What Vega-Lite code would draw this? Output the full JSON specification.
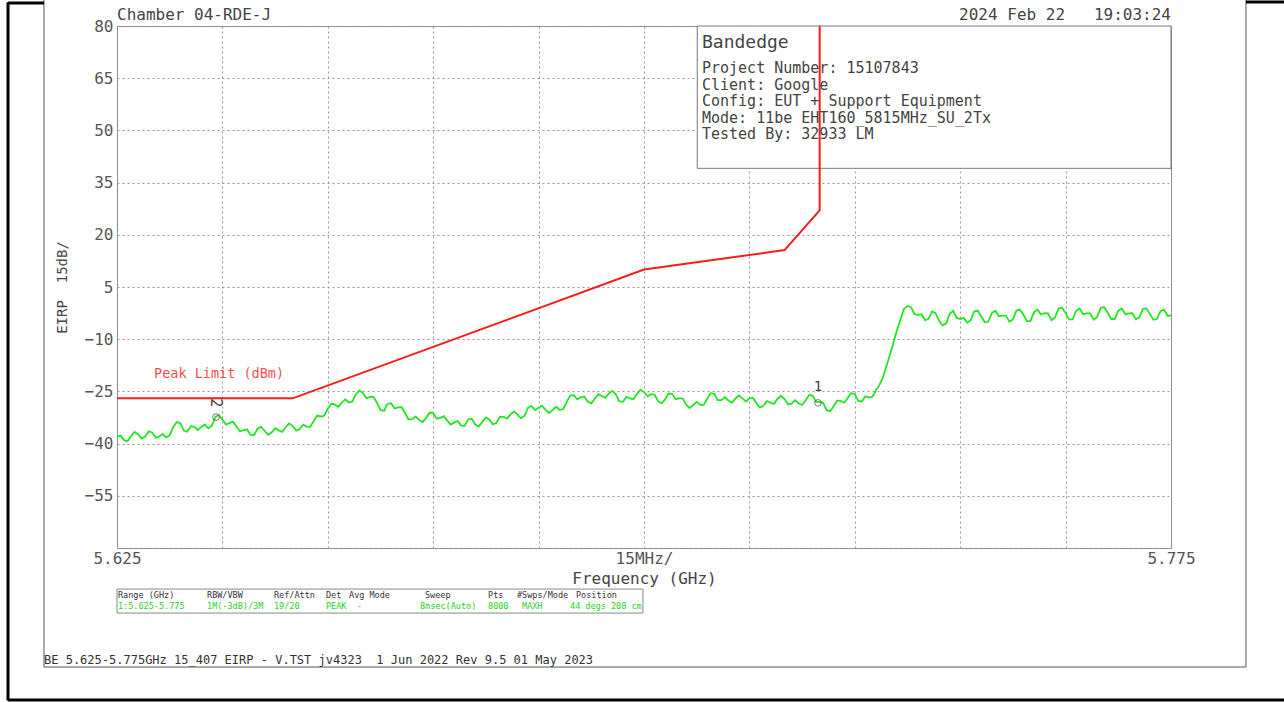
{
  "$schema": "https://vega.github.io/schema/vega-lite/v6.json",
  "width": 1054,
  "height": 522,
  "autosize": {"type": "none"},
  "padding": {"left": 117, "top": 26, "right": 113, "bottom": 154},
  "background": "white",
  "config": {
    "view": {"stroke": "#888888", "strokeWidth": 1},
    "font": "DejaVu Sans Mono",
    "text": {"font": "DejaVu Sans Mono"}
  },
  "datasets": {
    "limit": [
      {"seq": 1, "freq": 5.625, "eirp": -27},
      {"seq": 2, "freq": 5.65, "eirp": -27},
      {"seq": 3, "freq": 5.7, "eirp": 10},
      {"seq": 4, "freq": 5.72, "eirp": 15.6},
      {"seq": 5, "freq": 5.725, "eirp": 27},
      {"seq": 6, "freq": 5.725, "eirp": 80}
    ],
    "trace": [
      {"freq":5.625,"eirp":-38.1},{"freq":5.6255,"eirp":-37.65},
      {"freq":5.626,"eirp":-39.0},{"freq":5.6265,"eirp":-39.3},
      {"freq":5.627,"eirp":-37.8},{"freq":5.6275,"eirp":-36.65},
      {"freq":5.628,"eirp":-37.3},{"freq":5.6285,"eirp":-38.55},
      {"freq":5.629,"eirp":-38.0},{"freq":5.6295,"eirp":-36.5},
      {"freq":5.63,"eirp":-36.8},{"freq":5.6305,"eirp":-38.3},
      {"freq":5.631,"eirp":-38.0},{"freq":5.6315,"eirp":-37.2},
      {"freq":5.632,"eirp":-38.2},{"freq":5.6325,"eirp":-37.65},
      {"freq":5.633,"eirp":-35.3},{"freq":5.6335,"eirp":-33.8},
      {"freq":5.634,"eirp":-34.1},{"freq":5.6345,"eirp":-36.25},
      {"freq":5.635,"eirp":-36.6},{"freq":5.6355,"eirp":-35.0},
      {"freq":5.636,"eirp":-35.2},{"freq":5.6365,"eirp":-36.1},
      {"freq":5.637,"eirp":-35.2},{"freq":5.6375,"eirp":-34.5},
      {"freq":5.638,"eirp":-35.6},{"freq":5.6385,"eirp":-34.85},
      {"freq":5.639,"eirp":-32.3},{"freq":5.6395,"eirp":-31.8},
      {"freq":5.64,"eirp":-33.1},{"freq":5.6405,"eirp":-34.5},
      {"freq":5.641,"eirp":-34.1},{"freq":5.6415,"eirp":-33.7},
      {"freq":5.642,"eirp":-35.1},{"freq":5.6425,"eirp":-36.5},
      {"freq":5.643,"eirp":-36.1},{"freq":5.6435,"eirp":-35.9},
      {"freq":5.644,"eirp":-37.5},{"freq":5.6445,"eirp":-37.55},
      {"freq":5.645,"eirp":-35.8},{"freq":5.6455,"eirp":-35.15},
      {"freq":5.646,"eirp":-36.3},{"freq":5.6465,"eirp":-37.45},
      {"freq":5.647,"eirp":-36.8},{"freq":5.6475,"eirp":-35.6},
      {"freq":5.648,"eirp":-36.2},{"freq":5.6485,"eirp":-36.65},
      {"freq":5.649,"eirp":-35.3},{"freq":5.6495,"eirp":-34.2},
      {"freq":5.65,"eirp":-34.9},{"freq":5.6505,"eirp":-36.25},
      {"freq":5.651,"eirp":-35.8},{"freq":5.6515,"eirp":-34.55},
      {"freq":5.652,"eirp":-35.1},{"freq":5.6525,"eirp":-35.2},
      {"freq":5.653,"eirp":-33.5},{"freq":5.6535,"eirp":-31.95},
      {"freq":5.654,"eirp":-32.2},{"freq":5.6545,"eirp":-32.0},
      {"freq":5.655,"eirp":-30.0},{"freq":5.6555,"eirp":-28.5},
      {"freq":5.656,"eirp":-28.8},{"freq":5.6565,"eirp":-29.4},
      {"freq":5.657,"eirp":-28.2},{"freq":5.6575,"eirp":-27.3},
      {"freq":5.658,"eirp":-28.2},{"freq":5.6585,"eirp":-27.9},
      {"freq":5.659,"eirp":-25.8},{"freq":5.6595,"eirp":-24.75},
      {"freq":5.66,"eirp":-25.5},{"freq":5.6605,"eirp":-26.95},
      {"freq":5.661,"eirp":-26.6},{"freq":5.6615,"eirp":-26.55},
      {"freq":5.662,"eirp":-28.3},{"freq":5.6625,"eirp":-30.35},
      {"freq":5.663,"eirp":-30.6},{"freq":5.6635,"eirp":-28.6},
      {"freq":5.664,"eirp":-28.4},{"freq":5.6645,"eirp":-29.9},
      {"freq":5.665,"eirp":-29.6},{"freq":5.6655,"eirp":-29.55},
      {"freq":5.666,"eirp":-31.3},{"freq":5.6665,"eirp":-33.05},
      {"freq":5.667,"eirp":-33.0},{"freq":5.6675,"eirp":-32.2},
      {"freq":5.668,"eirp":-33.2},{"freq":5.6685,"eirp":-33.8},
      {"freq":5.669,"eirp":-32.6},{"freq":5.6695,"eirp":-31.05},
      {"freq":5.67,"eirp":-31.3},{"freq":5.6705,"eirp":-32.85},
      {"freq":5.671,"eirp":-32.6},{"freq":5.6715,"eirp":-32.1},
      {"freq":5.672,"eirp":-33.4},{"freq":5.6725,"eirp":-34.55},
      {"freq":5.673,"eirp":-33.9},{"freq":5.6735,"eirp":-33.5},
      {"freq":5.674,"eirp":-34.9},{"freq":5.6745,"eirp":-34.85},
      {"freq":5.675,"eirp":-33.0},{"freq":5.6755,"eirp":-32.9},
      {"freq":5.676,"eirp":-34.6},{"freq":5.6765,"eirp":-35.05},
      {"freq":5.677,"eirp":-33.7},{"freq":5.6775,"eirp":-32.5},
      {"freq":5.678,"eirp":-33.1},{"freq":5.6785,"eirp":-34.45},
      {"freq":5.679,"eirp":-34.0},{"freq":5.6795,"eirp":-32.25},
      {"freq":5.68,"eirp":-32.3},{"freq":5.6805,"eirp":-32.85},
      {"freq":5.681,"eirp":-31.6},{"freq":5.6815,"eirp":-30.75},
      {"freq":5.682,"eirp":-31.7},{"freq":5.6825,"eirp":-32.75},
      {"freq":5.683,"eirp":-32.0},{"freq":5.6835,"eirp":-29.7},
      {"freq":5.684,"eirp":-29.2},{"freq":5.6845,"eirp":-30.35},
      {"freq":5.685,"eirp":-29.7},{"freq":5.6855,"eirp":-29.1},
      {"freq":5.686,"eirp":-30.3},{"freq":5.6865,"eirp":-31.2},
      {"freq":5.687,"eirp":-30.3},{"freq":5.6875,"eirp":-29.4},
      {"freq":5.688,"eirp":-30.3},{"freq":5.6885,"eirp":-30.1},
      {"freq":5.689,"eirp":-28.1},{"freq":5.6895,"eirp":-26.2},
      {"freq":5.69,"eirp":-26.1},{"freq":5.6905,"eirp":-27.3},
      {"freq":5.691,"eirp":-26.7},{"freq":5.6915,"eirp":-26.45},
      {"freq":5.692,"eirp":-28.0},{"freq":5.6925,"eirp":-28.45},
      {"freq":5.693,"eirp":-27.1},{"freq":5.6935,"eirp":-25.8},
      {"freq":5.694,"eirp":-26.3},{"freq":5.6945,"eirp":-26.85},
      {"freq":5.695,"eirp":-25.6},{"freq":5.6955,"eirp":-24.85},
      {"freq":5.696,"eirp":-25.9},{"freq":5.6965,"eirp":-27.85},
      {"freq":5.697,"eirp":-28.0},{"freq":5.6975,"eirp":-26.6},
      {"freq":5.698,"eirp":-27.0},{"freq":5.6985,"eirp":-27.25},
      {"freq":5.699,"eirp":-25.7},{"freq":5.6995,"eirp":-24.55},
      {"freq":5.7,"eirp":-25.2},{"freq":5.7005,"eirp":-26.4},
      {"freq":5.701,"eirp":-25.8},{"freq":5.7015,"eirp":-25.9},
      {"freq":5.702,"eirp":-27.8},{"freq":5.7025,"eirp":-28.45},
      {"freq":5.703,"eirp":-27.3},{"freq":5.7035,"eirp":-25.6},
      {"freq":5.704,"eirp":-25.7},{"freq":5.7045,"eirp":-27.25},
      {"freq":5.705,"eirp":-27.0},{"freq":5.7055,"eirp":-27.0},
      {"freq":5.706,"eirp":-28.8},{"freq":5.7065,"eirp":-29.75},
      {"freq":5.707,"eirp":-28.9},{"freq":5.7075,"eirp":-28.0},
      {"freq":5.708,"eirp":-28.9},{"freq":5.7085,"eirp":-28.9},
      {"freq":5.709,"eirp":-27.1},{"freq":5.7095,"eirp":-25.5},
      {"freq":5.71,"eirp":-25.7},{"freq":5.7105,"eirp":-27.5},
      {"freq":5.711,"eirp":-27.5},{"freq":5.7115,"eirp":-26.65},
      {"freq":5.712,"eirp":-27.6},{"freq":5.7125,"eirp":-28.25},
      {"freq":5.713,"eirp":-27.1},{"freq":5.7135,"eirp":-26.15},
      {"freq":5.714,"eirp":-27.0},{"freq":5.7145,"eirp":-27.9},
      {"freq":5.715,"eirp":-27.0},{"freq":5.7155,"eirp":-26.8},
      {"freq":5.716,"eirp":-28.4},{"freq":5.7165,"eirp":-29.65},
      {"freq":5.717,"eirp":-29.1},{"freq":5.7175,"eirp":-27.8},
      {"freq":5.718,"eirp":-28.3},{"freq":5.7185,"eirp":-28.6},
      {"freq":5.719,"eirp":-27.1},{"freq":5.7195,"eirp":-26.25},
      {"freq":5.72,"eirp":-27.2},{"freq":5.7205,"eirp":-28.75},
      {"freq":5.721,"eirp":-28.5},{"freq":5.7215,"eirp":-27.55},
      {"freq":5.722,"eirp":-28.4},{"freq":5.7225,"eirp":-28.9},
      {"freq":5.723,"eirp":-27.6},{"freq":5.7235,"eirp":-26.0},
      {"freq":5.724,"eirp":-26.2},{"freq":5.7245,"eirp":-28.0},
      {"freq":5.725,"eirp":-28.0},{"freq":5.7255,"eirp":-28.3},
      {"freq":5.726,"eirp":-30.4},{"freq":5.7265,"eirp":-30.7},
      {"freq":5.727,"eirp":-29.2},{"freq":5.7275,"eirp":-27.6},
      {"freq":5.728,"eirp":-27.8},{"freq":5.7285,"eirp":-28.25},
      {"freq":5.729,"eirp":-26.9},{"freq":5.7295,"eirp":-25.45},
      {"freq":5.73,"eirp":-25.8},{"freq":5.7305,"eirp":-27.75},
      {"freq":5.731,"eirp":-27.9},{"freq":5.7315,"eirp":-26.4},
      {"freq":5.732,"eirp":-26.7},{"freq":5.7325,"eirp":-26.6},
      {"freq":5.733,"eirp":-24.7},{"freq":5.7335,"eirp":-23.2},
      {"freq":5.734,"eirp":-21.0},{"freq":5.7345,"eirp":-17.75},
      {"freq":5.735,"eirp":-14.5},{"freq":5.7355,"eirp":-10.95},
      {"freq":5.736,"eirp":-7.4},{"freq":5.7365,"eirp":-4.35},
      {"freq":5.737,"eirp":-1.3},{"freq":5.7375,"eirp":-0.45},
      {"freq":5.738,"eirp":-0.8},{"freq":5.7385,"eirp":-2.8},
      {"freq":5.739,"eirp":-3.0},{"freq":5.7395,"eirp":-2.85},
      {"freq":5.74,"eirp":-4.5},{"freq":5.7405,"eirp":-4.15},
      {"freq":5.741,"eirp":-2.0},{"freq":5.7415,"eirp":-2.5},
      {"freq":5.742,"eirp":-4.8},{"freq":5.7425,"eirp":-6.05},
      {"freq":5.743,"eirp":-5.5},{"freq":5.7435,"eirp":-2.75},
      {"freq":5.744,"eirp":-1.8},{"freq":5.7445,"eirp":-3.9},
      {"freq":5.745,"eirp":-4.2},{"freq":5.7455,"eirp":-3.85},
      {"freq":5.746,"eirp":-5.3},{"freq":5.7465,"eirp":-4.55},
      {"freq":5.747,"eirp":-2.0},{"freq":5.7475,"eirp":-1.85},
      {"freq":5.748,"eirp":-3.5},{"freq":5.7485,"eirp":-5.15},
      {"freq":5.749,"eirp":-5.0},{"freq":5.7495,"eirp":-2.5},
      {"freq":5.75,"eirp":-1.8},{"freq":5.7505,"eirp":-3.4},
      {"freq":5.751,"eirp":-3.2},{"freq":5.7515,"eirp":-3.2},
      {"freq":5.752,"eirp":-5.0},{"freq":5.7525,"eirp":-4.3},
      {"freq":5.753,"eirp":-1.8},{"freq":5.7535,"eirp":-1.5},
      {"freq":5.754,"eirp":-3.0},{"freq":5.7545,"eirp":-4.8},
      {"freq":5.755,"eirp":-4.8},{"freq":5.7555,"eirp":-2.25},
      {"freq":5.756,"eirp":-1.5},{"freq":5.7565,"eirp":-2.9},
      {"freq":5.757,"eirp":-2.5},{"freq":5.7575,"eirp":-2.6},
      {"freq":5.758,"eirp":-4.5},{"freq":5.7585,"eirp":-3.75},
      {"freq":5.759,"eirp":-1.2},{"freq":5.7595,"eirp":-0.95},
      {"freq":5.76,"eirp":-2.5},{"freq":5.7605,"eirp":-4.3},
      {"freq":5.761,"eirp":-4.3},{"freq":5.7615,"eirp":-1.85},
      {"freq":5.762,"eirp":-1.2},{"freq":5.7625,"eirp":-2.8},
      {"freq":5.763,"eirp":-2.6},{"freq":5.7635,"eirp":-2.6},
      {"freq":5.764,"eirp":-4.4},{"freq":5.7645,"eirp":-3.6},
      {"freq":5.765,"eirp":-1.0},{"freq":5.7655,"eirp":-0.8},
      {"freq":5.766,"eirp":-2.4},{"freq":5.7665,"eirp":-4.2},
      {"freq":5.767,"eirp":-4.2},{"freq":5.7675,"eirp":-1.8},
      {"freq":5.768,"eirp":-1.2},{"freq":5.7685,"eirp":-2.8},
      {"freq":5.769,"eirp":-2.6},{"freq":5.7695,"eirp":-2.55},
      {"freq":5.77,"eirp":-4.3},{"freq":5.7705,"eirp":-3.7},
      {"freq":5.771,"eirp":-1.3},{"freq":5.7715,"eirp":-1.15},
      {"freq":5.772,"eirp":-2.8},{"freq":5.7725,"eirp":-4.4},
      {"freq":5.773,"eirp":-4.2},{"freq":5.7735,"eirp":-1.95},
      {"freq":5.774,"eirp":-1.5},{"freq":5.7745,"eirp":-3.25},
      {"freq":5.775,"eirp":-3.2}
    ]
  },
  "encoding": {
    "x": {
      "field": "freq",
      "type": "quantitative",
      "scale": {"domain": [5.625, 5.775], "nice": false, "zero": false},
      "axis": {
        "values": [5.625, 5.64, 5.655, 5.67, 5.685, 5.7, 5.715, 5.73, 5.745, 5.76, 5.775],
        "labelExpr": "datum.value < 5.626 ? '5.625' : (abs(datum.value - 5.7) < 0.001 ? '15MHz/' : (datum.value > 5.774 ? '5.775' : ''))",
        "title": "Frequency (GHz)",
        "grid": true,
        "gridColor": "#999999",
        "gridDash": [2, 3],
        "gridWidth": 1,
        "ticks": false,
        "tickSize": 0,
        "domain": false,
        "labelFont": "DejaVu Sans Mono",
        "labelFontSize": 16,
        "labelColor": "#555555",
        "labelPadding": 2,
        "labelOverlap": false,
        "labelFlush": false,
        "titleFont": "DejaVu Sans Mono",
        "titleFontSize": 16,
        "titleFontWeight": "normal",
        "titleColor": "#444444",
        "titlePadding": 4
      }
    },
    "y": {
      "field": "eirp",
      "type": "quantitative",
      "scale": {"domain": [-70, 80], "nice": false, "zero": false},
      "axis": {
        "values": [-70, -55, -40, -25, -10, 5, 20, 35, 50, 65, 80],
        "labelExpr": "datum.value == -70 ? '' : datum.label",
        "title": "EIRP\u00a0\u00a015dB/",
        "grid": true,
        "gridColor": "#999999",
        "gridDash": [2, 3],
        "gridWidth": 1,
        "ticks": false,
        "tickSize": 0,
        "domain": false,
        "labelFont": "DejaVu Sans Mono",
        "labelFontSize": 16,
        "labelColor": "#555555",
        "labelPadding": 4,
        "labelOverlap": false,
        "labelFlush": false,
        "titleFont": "DejaVu Sans Mono",
        "titleFontSize": 14,
        "titleFontWeight": "normal",
        "titleColor": "#444444",
        "titleAngle": 270,
        "titleX": -55,
        "titleY": 261,
        "titleAlign": "center",
        "titleBaseline": "middle"
      }
    }
  },
  "layer": [
    {
      "data": {"values": [{"freq": 5.70758, "freq2": 5.775, "eirp": 80, "eirp2": 39.1}]},
      "mark": {"type": "rect", "fill": "white", "stroke": "#777777", "strokeWidth": 1},
      "encoding": {"x2": {"field": "freq2"}, "y2": {"field": "eirp2"}}
    },
    {
      "data": {"values": [{"freq": 5.625, "freq2": 5.69985, "eirp": -81.8, "eirp2": -88.7}]},
      "mark": {"type": "rect", "fill": "white", "stroke": "#888888", "strokeWidth": 1},
      "encoding": {"x2": {"field": "freq2"}, "y2": {"field": "eirp2"}}
    },
    {
      "data": {"values": [
        {"freq": 5.61461, "freq2": 5.61461, "eirp": 87.5, "eirp2": -104.2},
        {"freq": 5.61461, "freq2": 5.78567, "eirp": -104.2, "eirp2": -104.2},
        {"freq": 5.78567, "freq2": 5.78567, "eirp": 87.5, "eirp2": -104.2}
      ]},
      "mark": {"type": "rule", "stroke": "#555555", "strokeWidth": 1},
      "encoding": {"x2": {"field": "freq2"}, "y2": {"field": "eirp2"}}
    },
    {
      "data": {"values": [
        {"freq": 5.60949, "freq2": 5.60949, "eirp": 86.8, "eirp2": -113.8},
        {"freq": 5.60949, "freq2": 5.61461, "eirp": 86.6, "eirp2": 86.6},
        {"freq": 5.78567, "freq2": 5.79108, "eirp": 86.9, "eirp2": 86.9},
        {"freq": 5.60949, "freq2": 5.79108, "eirp": -113.7, "eirp2": -113.7}
      ]},
      "mark": {"type": "rule", "stroke": "#000000", "strokeWidth": 3},
      "encoding": {"x2": {"field": "freq2"}, "y2": {"field": "eirp2"}}
    },
    {
      "data": {"name": "limit"},
      "mark": {"type": "line", "stroke": "#ff1a1a", "strokeWidth": 2},
      "encoding": {"order": {"field": "seq", "type": "quantitative"}}
    },
    {
      "data": {"name": "trace"},
      "mark": {"type": "line", "stroke": "#22e622", "strokeWidth": 1.8},
      "encoding": {}
    },
    {
      "data": {"values": [{"freq": 5.72476, "eirp": -28.3}, {"freq": 5.63909, "eirp": -32.4}]},
      "mark": {"type": "point", "shape": "circle", "filled": false, "size": 45, "stroke": "#444444", "strokeWidth": 1}
    },
    {
      "data": {"values": [{"freq": 5.72476, "eirp": -23.7, "label": "1"}]},
      "mark": {"type": "text", "font": "DejaVu Sans Mono", "fontSize": 14, "color": "#444444", "align": "center", "baseline": "middle"},
      "encoding": {"text": {"field": "label"}}
    },
    {
      "data": {"values": [{"freq": 5.63909, "eirp": -28.3, "label": "2"}]},
      "mark": {"type": "text", "font": "DejaVu Sans Mono", "fontSize": 15, "color": "#444444", "align": "center", "baseline": "middle", "angle": 90},
      "encoding": {"text": {"field": "label"}}
    },
    {
      "data": {"values": [{"freq": 5.63027, "eirp": -20.0, "label": "Peak Limit (dBm)"}]},
      "mark": {"type": "text", "font": "DejaVu Sans Mono", "fontSize": 13.5, "color": "#ff4d4d", "align": "left", "baseline": "middle"},
      "encoding": {"text": {"field": "label"}}
    },
    {
      "data": {"values": [{"freq": 5.625, "eirp": 83.2, "label": "Chamber 04-RDE-J"}]},
      "mark": {"type": "text", "font": "DejaVu Sans Mono", "fontSize": 16, "color": "#444444", "align": "left", "baseline": "middle"},
      "encoding": {"text": {"field": "label"}}
    },
    {
      "data": {"values": [{"freq": 5.775, "eirp": 83.2, "label": "2024 Feb 22\u00a0\u00a0\u00a019:03:24"}]},
      "mark": {"type": "text", "font": "DejaVu Sans Mono", "fontSize": 16, "color": "#444444", "align": "right", "baseline": "middle"},
      "encoding": {"text": {"field": "label"}}
    },
    {
      "data": {"values": [{"freq": 5.70825, "eirp": 75.1, "label": "Bandedge"}]},
      "mark": {"type": "text", "font": "DejaVu Sans Mono", "fontSize": 18, "color": "#444444", "align": "left", "baseline": "middle"},
      "encoding": {"text": {"field": "label"}}
    },
    {
      "data": {"values": [
        {"freq": 5.70825, "eirp": 67.9, "label": "Project Number: 15107843"},
        {"freq": 5.70825, "eirp": 63.05, "label": "Client: Google"},
        {"freq": 5.70825, "eirp": 58.45, "label": "Config: EUT + Support Equipment"},
        {"freq": 5.70825, "eirp": 53.6, "label": "Mode: 11be EHT160_5815MHz_SU_2Tx"},
        {"freq": 5.70825, "eirp": 48.95, "label": "Tested By: 32933 LM"}
      ]},
      "mark": {"type": "text", "font": "DejaVu Sans Mono", "fontSize": 15, "color": "#444444", "align": "left", "baseline": "middle"},
      "encoding": {"text": {"field": "label"}}
    },
    {
      "data": {"values": [
        {"freq": 5.62514, "eirp": -83.5, "label": "Range (GHz)"},
        {"freq": 5.63781, "eirp": -83.5, "label": "RBW/VBW"},
        {"freq": 5.64734, "eirp": -83.5, "label": "Ref/Attn"},
        {"freq": 5.65474, "eirp": -83.5, "label": "Det"},
        {"freq": 5.65802, "eirp": -83.5, "label": "Avg Mode"},
        {"freq": 5.66883, "eirp": -83.5, "label": "Sweep"},
        {"freq": 5.6778, "eirp": -83.5, "label": "Pts"},
        {"freq": 5.68192, "eirp": -83.5, "label": "#Swps/Mode"},
        {"freq": 5.69032, "eirp": -83.5, "label": "Position"}
      ]},
      "mark": {"type": "text", "font": "DejaVu Sans Mono", "fontSize": 8.5, "color": "#333333", "align": "left", "baseline": "middle"},
      "encoding": {"text": {"field": "label"}}
    },
    {
      "data": {"values": [
        {"freq": 5.62514, "eirp": -86.7, "label": "1:5.625-5.775"},
        {"freq": 5.63781, "eirp": -86.7, "label": "1M(-3dB)/3M"},
        {"freq": 5.64734, "eirp": -86.7, "label": "19/20"},
        {"freq": 5.65474, "eirp": -86.7, "label": "PEAK"},
        {"freq": 5.65916, "eirp": -86.7, "label": "-"},
        {"freq": 5.66812, "eirp": -86.7, "label": "8msec(Auto)"},
        {"freq": 5.6778, "eirp": -86.7, "label": "8000"},
        {"freq": 5.68264, "eirp": -86.7, "label": "MAXH"},
        {"freq": 5.68947, "eirp": -86.7, "label": "44 degs 208 cm"}
      ]},
      "mark": {"type": "text", "font": "DejaVu Sans Mono", "fontSize": 8.5, "color": "#1ed41e", "align": "left", "baseline": "middle"},
      "encoding": {"text": {"field": "label"}}
    },
    {
      "data": {"values": [{"freq": 5.61461, "eirp": -102.2, "label": "BE 5.625-5.775GHz 15_407 EIRP - V.TST jv4323\u00a0\u00a01 Jun 2022 Rev 9.5 01 May 2023"}]},
      "mark": {"type": "text", "font": "DejaVu Sans Mono", "fontSize": 12, "color": "#333333", "align": "left", "baseline": "middle"},
      "encoding": {"text": {"field": "label"}}
    }
  ]
}
